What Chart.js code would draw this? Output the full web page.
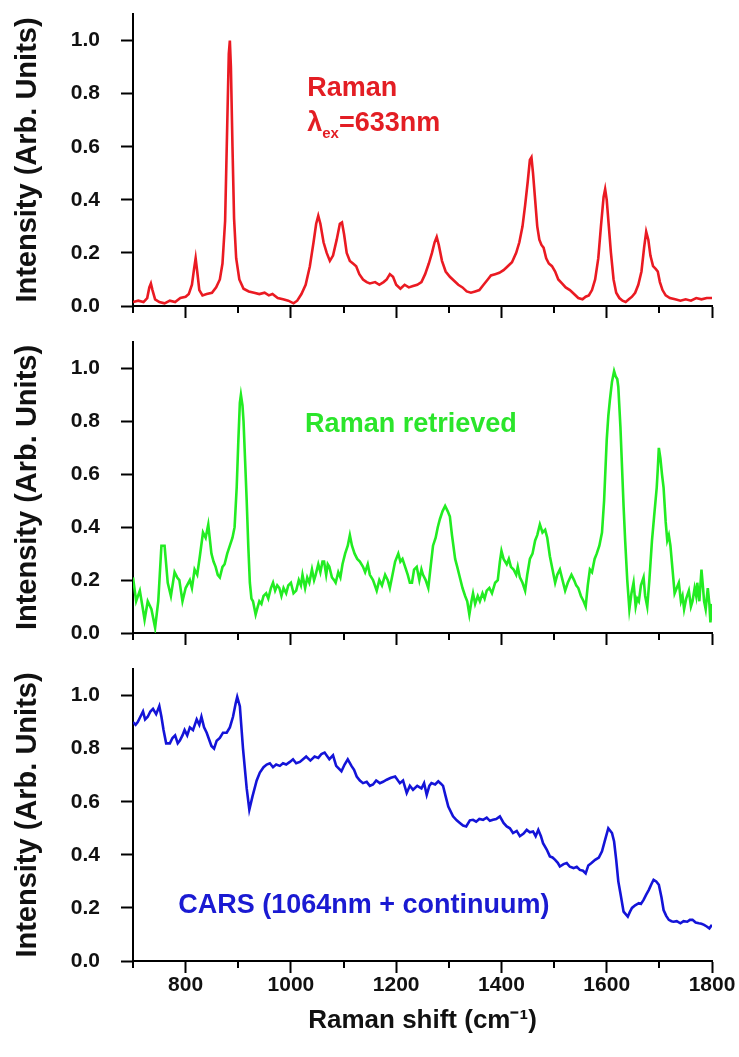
<!DOCTYPE html>
<html>
<head>
<meta charset="utf-8">
<script src="https://cdn.jsdelivr.net/npm/chart.js@4.4.1/dist/chart.umd.min.js"></script>
<style>
  body { margin: 0; background: #fff; }
  .panel { position: absolute; left: 0; }
</style>
</head>
<body>
<canvas id="ramanChart" class="panel" width="739" height="330" style="top:0px"></canvas>
<canvas id="retrievedChart" class="panel" width="739" height="330" style="top:328px"></canvas>
<canvas id="carsChart" class="panel" width="739" height="402" style="top:655px"></canvas>
<script>
// Raman spectrum, 633 nm excitation (red)
const redX = [700, 710, 720, 727, 731, 734, 737, 742, 750, 760, 770, 780, 790, 800, 806, 812, 816, 819, 822, 826,
  832, 840, 850, 858, 865, 870, 875, 879, 882, 884, 886, 889, 892, 896, 902, 910, 920, 930, 940, 950,
  958, 965, 975, 985, 995, 1005, 1012, 1020, 1028, 1036, 1043, 1048, 1052, 1056, 1062, 1068, 1074, 1080, 1087, 1093,
  1097, 1101, 1106, 1112, 1118, 1124, 1130, 1137, 1144, 1150, 1160, 1168, 1176, 1182, 1188, 1194, 1200, 1208, 1216, 1224,
  1232, 1240, 1248, 1255, 1262, 1268, 1273, 1277, 1281, 1287, 1294, 1302, 1310, 1318, 1326, 1334, 1342, 1350, 1358, 1366,
  1374, 1380, 1388, 1396, 1404, 1412, 1420, 1428, 1434, 1440, 1445, 1450, 1454, 1457, 1460, 1464, 1468, 1472, 1476, 1480,
  1485, 1490, 1496, 1502, 1508, 1515, 1522, 1530, 1538, 1546, 1554, 1560, 1566, 1572, 1578, 1584, 1589, 1594, 1597, 1600,
  1604, 1608, 1613, 1618, 1624, 1630, 1636, 1642, 1648, 1654, 1660, 1666, 1671, 1675, 1679, 1683, 1688, 1693, 1697, 1701,
  1706, 1712, 1720, 1730, 1740, 1750, 1760, 1770, 1780, 1790, 1800];
const redY = [0.015, 0.02, 0.015, 0.03, 0.07, 0.085, 0.06, 0.025, 0.015, 0.01, 0.02, 0.015, 0.03, 0.035, 0.045, 0.08, 0.14, 0.18, 0.13, 0.06,
  0.04, 0.045, 0.05, 0.07, 0.1, 0.16, 0.32, 0.68, 0.95, 1.0, 0.9, 0.6, 0.33, 0.18, 0.1, 0.065, 0.055, 0.05, 0.045, 0.05,
  0.04, 0.045, 0.03, 0.025, 0.02, 0.01, 0.02, 0.045, 0.08, 0.15, 0.24, 0.31, 0.34, 0.31, 0.24, 0.2, 0.17, 0.19, 0.25, 0.31,
  0.315, 0.27, 0.2, 0.17, 0.16, 0.15, 0.12, 0.1, 0.09, 0.085, 0.09, 0.08, 0.09, 0.1, 0.12, 0.11, 0.08, 0.065, 0.08, 0.07,
  0.075, 0.08, 0.09, 0.12, 0.16, 0.2, 0.24, 0.26, 0.23, 0.17, 0.13, 0.11, 0.095, 0.08, 0.07, 0.055, 0.05, 0.055, 0.06, 0.08,
  0.1, 0.115, 0.12, 0.125, 0.135, 0.15, 0.165, 0.2, 0.24, 0.3, 0.38, 0.47, 0.55, 0.56, 0.5, 0.4, 0.3, 0.25, 0.23, 0.22,
  0.18, 0.16, 0.15, 0.13, 0.1, 0.085, 0.07, 0.06, 0.045, 0.03, 0.025, 0.035, 0.04, 0.06, 0.1, 0.18, 0.3, 0.41, 0.44, 0.4,
  0.3, 0.2, 0.1, 0.05, 0.03, 0.02, 0.015, 0.025, 0.035, 0.05, 0.08, 0.13, 0.22, 0.28, 0.25, 0.19, 0.15, 0.14, 0.13, 0.09,
  0.06, 0.04, 0.03, 0.025, 0.02, 0.025, 0.02, 0.03, 0.025, 0.03, 0.03];

// Raman retrieved from CARS (green)
const greenX = [700, 706, 713, 718, 722, 728, 735, 742, 748, 754, 760, 766, 772, 779, 784, 788, 794, 800, 808, 812,
  817, 822, 827, 833, 838, 843, 849, 853, 857, 861, 865, 870, 874, 879, 884, 889, 893, 897, 900, 903,
  905, 908, 910, 913, 916, 919, 922, 925, 928, 931, 933, 937, 940, 944, 948, 953, 957, 962, 966, 970,
  974, 978, 982, 986, 991, 995, 1000, 1005, 1010, 1015, 1019, 1022, 1027, 1031, 1035, 1040, 1044, 1047, 1052, 1056,
  1060, 1063, 1067, 1070, 1073, 1078, 1082, 1085, 1090, 1094, 1098, 1103, 1108, 1112, 1116, 1121, 1126, 1131, 1137, 1141,
  1146, 1150, 1156, 1163, 1168, 1173, 1179, 1184, 1188, 1193, 1198, 1204, 1208, 1212, 1217, 1222, 1226, 1230, 1234, 1239,
  1244, 1248, 1251, 1256, 1261, 1266, 1270, 1275, 1279, 1283, 1288, 1293, 1298, 1302, 1306, 1312, 1316, 1321, 1326, 1331,
  1335, 1339, 1343, 1346, 1350, 1355, 1359, 1364, 1368, 1372, 1377, 1382, 1388, 1393, 1397, 1400, 1404, 1410, 1414, 1418,
  1423, 1428, 1431, 1435, 1440, 1445, 1449, 1454, 1459, 1464, 1468, 1473, 1478, 1483, 1487, 1492, 1497, 1502, 1506, 1511,
  1516, 1521, 1526, 1533, 1538, 1542, 1546, 1551, 1556, 1560, 1564, 1568, 1572, 1577, 1581, 1586, 1591, 1595, 1600, 1603,
  1606, 1610, 1614, 1617, 1620, 1622, 1626, 1629, 1632, 1635, 1639, 1643, 1647, 1651, 1655, 1658, 1661, 1665, 1670, 1673,
  1677, 1681, 1686, 1690, 1695, 1697, 1699, 1702, 1705, 1708, 1712, 1715, 1718, 1721, 1725, 1729, 1733, 1737, 1741, 1744,
  1747, 1751, 1756, 1760, 1763, 1767, 1770, 1772, 1776, 1780, 1783, 1785, 1788, 1792, 1795, 1797, 1800];
const greenY = [0.21, 0.12, 0.16, 0.1, 0.05, 0.12, 0.09, 0.02, 0.12, 0.33, 0.33, 0.19, 0.14, 0.23, 0.21, 0.2, 0.12, 0.17, 0.2, 0.17,
  0.24, 0.22, 0.29, 0.38, 0.36, 0.41, 0.3, 0.27, 0.25, 0.22, 0.21, 0.25, 0.26, 0.3, 0.33, 0.36, 0.4, 0.55, 0.72, 0.87,
  0.9, 0.86, 0.8, 0.65, 0.5, 0.33, 0.19, 0.13, 0.12, 0.09, 0.07, 0.1, 0.12, 0.11, 0.14, 0.15, 0.13, 0.17, 0.19, 0.16,
  0.18, 0.17, 0.14, 0.17, 0.15, 0.18, 0.19, 0.15, 0.16, 0.2, 0.18, 0.22, 0.17, 0.21, 0.19, 0.24, 0.2, 0.22, 0.26, 0.23,
  0.27, 0.27, 0.22, 0.26, 0.25, 0.21, 0.2, 0.19, 0.23, 0.21, 0.26, 0.3, 0.33, 0.37, 0.33, 0.3, 0.28, 0.27, 0.25, 0.23,
  0.26, 0.22, 0.2, 0.16, 0.2, 0.18, 0.22, 0.2, 0.17, 0.22, 0.27, 0.3, 0.27, 0.28, 0.25, 0.22, 0.19, 0.19, 0.24, 0.25,
  0.2, 0.24, 0.22, 0.2, 0.17, 0.26, 0.33, 0.36, 0.4, 0.43, 0.46, 0.48, 0.46, 0.44, 0.37, 0.28, 0.25, 0.21, 0.17, 0.14,
  0.12, 0.07, 0.12, 0.15, 0.11, 0.14, 0.12, 0.15, 0.13, 0.16, 0.17, 0.15, 0.19, 0.2, 0.27, 0.31, 0.28, 0.26, 0.28, 0.25,
  0.24, 0.22, 0.25, 0.21, 0.19, 0.16, 0.22, 0.28, 0.3, 0.35, 0.37, 0.41, 0.38, 0.39, 0.36, 0.29, 0.24, 0.19, 0.22, 0.24,
  0.2, 0.16, 0.19, 0.22, 0.2, 0.18, 0.17, 0.14, 0.12, 0.1, 0.18, 0.24, 0.23, 0.28, 0.3, 0.33, 0.38, 0.5, 0.73, 0.82,
  0.88, 0.95, 0.99, 0.97, 0.96, 0.93, 0.78, 0.63, 0.48, 0.35, 0.2, 0.09, 0.15, 0.19, 0.1, 0.13, 0.12, 0.18, 0.21, 0.14,
  0.1, 0.2, 0.35, 0.44, 0.55, 0.62, 0.7, 0.66, 0.6, 0.55, 0.42, 0.35, 0.37, 0.33, 0.24, 0.15, 0.17, 0.19, 0.12, 0.14,
  0.09, 0.13, 0.16, 0.1, 0.12, 0.17, 0.14, 0.19, 0.12, 0.24, 0.17, 0.12, 0.09, 0.17, 0.11, 0.04, 0.11];

// CARS, 1064 nm + continuum (blue)
const blueX = [700, 705, 709, 714, 719, 723, 728, 733, 738, 744, 750, 754, 758, 763, 770, 775, 780, 785, 789, 794,
  798, 803, 808, 814, 821, 826, 830, 835, 840, 849, 854, 859, 865, 871, 878, 884, 890, 895, 898, 903,
  909, 916, 921, 927, 935, 941, 948, 954, 960, 966, 972, 979, 985, 991, 998, 1004, 1010, 1017, 1023, 1029,
  1037, 1045, 1052, 1058, 1064, 1073, 1080, 1086, 1096, 1102, 1108, 1115, 1120, 1125, 1131, 1137, 1144, 1150, 1156, 1162,
  1169, 1175, 1182, 1190, 1198, 1207, 1213, 1220, 1226, 1232, 1240, 1248, 1253, 1258, 1263, 1267, 1274, 1280, 1285, 1289,
  1294, 1299, 1308, 1315, 1321, 1327, 1333, 1340, 1346, 1352, 1358, 1365, 1372, 1378, 1384, 1390, 1397, 1404, 1410, 1416,
  1422, 1429, 1435, 1442, 1448, 1454, 1460, 1465, 1470, 1475, 1479, 1486, 1492, 1497, 1502, 1507, 1511, 1518, 1524, 1530,
  1537, 1543, 1549, 1555, 1560, 1565, 1571, 1578, 1585, 1591, 1597, 1603, 1607, 1610, 1614, 1618, 1622, 1626, 1632, 1640,
  1644, 1648, 1654, 1661, 1665, 1670, 1675, 1680, 1685, 1689, 1694, 1699, 1704, 1708, 1713, 1718, 1723, 1727, 1733, 1740,
  1746, 1753, 1758, 1763, 1769, 1775, 1780, 1785, 1790, 1795, 1800];
const blueY = [0.9, 0.89, 0.9, 0.92, 0.94, 0.91, 0.92, 0.94, 0.95, 0.93, 0.96, 0.92, 0.87, 0.82, 0.82, 0.84, 0.85, 0.82, 0.83, 0.85,
  0.87, 0.85, 0.88, 0.87, 0.91, 0.89, 0.92, 0.88, 0.86, 0.81, 0.8, 0.83, 0.84, 0.86, 0.86, 0.88, 0.92, 0.97, 0.995, 0.96,
  0.8, 0.65, 0.57, 0.62, 0.68, 0.71, 0.73, 0.74, 0.745, 0.73, 0.74, 0.735, 0.745, 0.74, 0.75, 0.76, 0.745, 0.75, 0.76, 0.77,
  0.755, 0.77, 0.765, 0.78, 0.785, 0.76, 0.775, 0.735, 0.715, 0.74, 0.76, 0.735, 0.72, 0.695, 0.68, 0.67, 0.675, 0.66, 0.665, 0.68,
  0.67, 0.675, 0.683, 0.69, 0.695, 0.67, 0.68, 0.633, 0.66, 0.645, 0.66, 0.65, 0.67, 0.626, 0.66, 0.67, 0.665, 0.677, 0.668, 0.66,
  0.62, 0.582, 0.545, 0.53, 0.52, 0.51, 0.507, 0.53, 0.532, 0.525, 0.535, 0.532, 0.54, 0.528, 0.532, 0.535, 0.545, 0.52, 0.507, 0.5,
  0.482, 0.49, 0.47, 0.48, 0.494, 0.485, 0.488, 0.47, 0.494, 0.47, 0.444, 0.42, 0.394, 0.39, 0.381, 0.37, 0.356, 0.365, 0.369, 0.355,
  0.35, 0.355, 0.343, 0.34, 0.33, 0.36, 0.369, 0.381, 0.39, 0.413, 0.457, 0.5, 0.49, 0.482, 0.45, 0.381, 0.3, 0.255, 0.186, 0.167,
  0.185, 0.2, 0.21, 0.218, 0.215, 0.23, 0.25, 0.268, 0.29, 0.306, 0.3, 0.287, 0.24, 0.192, 0.17, 0.155, 0.15, 0.148, 0.15, 0.142,
  0.15, 0.148, 0.155, 0.155, 0.145, 0.142, 0.14, 0.136, 0.13, 0.123, 0.136];

const xMajorLabels = [800, 1000, 1200, 1400, 1600, 1800];
const yMajorLabels = ['0.0', '0.2', '0.4', '0.6', '0.8', '1.0'];

const FONT = "'Liberation Sans', Arial, Helvetica, sans-serif";

const isMajorX = v => xMajorLabels.includes(Math.round(v));
const isMajorY = v => Math.round(v * 10) % 2 === 0 && v < 1.05;

// short minor ticks, the long major ones come from Chart.js itself
const minorTicks = {
  id: 'minorTicks',
  afterDraw(chart) {
    const { ctx, scales: { x, y } } = chart;
    ctx.save();
    ctx.strokeStyle = '#000';
    ctx.lineWidth = 2;
    ctx.beginPath();
    x.ticks.forEach(t => {
      if (isMajorX(t.value)) return;
      const px = Math.round(x.getPixelForValue(t.value));
      ctx.moveTo(px, x.top);
      ctx.lineTo(px, x.top + 7);
    });
    y.ticks.forEach(t => {
      if (isMajorY(t.value)) return;
      const py = Math.round(y.getPixelForValue(t.value));
      ctx.moveTo(y.right, py);
      ctx.lineTo(y.right - 7, py);
    });
    ctx.stroke();
    ctx.restore();
  }
};

// text labels inside the panels, placed in data coordinates
const panelNotes = {
  id: 'panelNotes',
  afterDatasetsDraw(chart, args, opts) {
    const { ctx, scales: { x, y } } = chart;
    (opts.items || []).forEach(item => {
      let px = x.getPixelForValue(item.x);
      const py = y.getPixelForValue(item.y);
      ctx.save();
      ctx.fillStyle = item.color;
      ctx.textBaseline = 'alphabetic';
      ctx.textAlign = 'left';
      item.parts.forEach(p => {
        ctx.font = 'bold ' + p.size + 'px ' + FONT;
        ctx.fillText(p.text, px, py + (p.dy || 0));
        px += ctx.measureText(p.text).width;
      });
      ctx.restore();
    });
  }
};

function makePanel(id, xs, ys, color, opts) {
  const points = xs.map((v, i) => ({ x: v, y: ys[i] }));
  return new Chart(document.getElementById(id), {
    type: 'line',
    data: {
      datasets: [{
        data: points,
        borderColor: color,
        borderWidth: 2.6,
        pointRadius: 0,
        tension: 0,
        fill: false
      }]
    },
    options: {
      responsive: false,
      animation: false,
      events: [],
      layout: { padding: { top: 14, right: 27, left: 0, bottom: 0 } },
      plugins: {
        legend: { display: false },
        tooltip: { enabled: false },
        panelNotes: { items: opts.notes }
      },
      scales: {
        x: {
          type: 'linear',
          min: 700,
          max: 1800,
          afterFit: s => {
            s.height = opts.xHeight;
            s.paddingLeft = 0;
            s.paddingRight = 0;
          },
          border: { color: '#000', width: 2 },
          grid: {
            drawOnChartArea: false,
            tickLength: 12,
            tickWidth: 2,
            tickColor: c => isMajorX(c.tick.value) ? '#000' : 'rgba(0,0,0,0)'
          },
          ticks: {
            display: opts.showX,
            stepSize: 100,
            autoSkip: false,
            maxRotation: 0,
            padding: 0,
            color: '#111',
            font: { family: FONT, size: 21, weight: 'bold' },
            callback: v => isMajorX(v) ? String(v) : ''
          },
          title: {
            display: opts.showX,
            text: 'Raman shift (cm\u207B\u00B9)',
            color: '#111',
            font: { family: FONT, size: 26, weight: 'bold' },
            padding: { top: 0, bottom: 21 }
          }
        },
        y: {
          min: 0,
          max: 1.1,
          afterFit: s => {
            s.width = 133;
            s.paddingTop = 0;
            s.paddingBottom = 0;
          },
          border: { color: '#000', width: 2 },
          grid: {
            drawOnChartArea: false,
            tickLength: 12,
            tickWidth: 2,
            tickColor: c => isMajorY(c.tick.value) ? '#000' : 'rgba(0,0,0,0)'
          },
          ticks: {
            stepSize: 0.1,
            padding: 21,
            color: '#111',
            font: { family: FONT, size: 21, weight: 'bold' },
            callback: v => isMajorY(v) ? yMajorLabels[Math.round(v * 5)] : ''
          },
          title: {
            display: true,
            text: 'Intensity (Arb. Units)',
            color: '#111',
            font: { family: FONT, size: 29, weight: 'bold' },
            padding: { top: 11, bottom: 0 }
          }
        }
      }
    },
    plugins: [minorTicks, panelNotes]
  });
}

makePanel('ramanChart', redX, redY, '#ea1a22', {
  xHeight: 24,
  showX: false,
  notes: [
    { x: 1031, y: 0.79, color: '#e31e24', parts: [{ text: 'Raman', size: 27 }] },
    { x: 1031, y: 0.66, color: '#e31e24', parts: [
      { text: '\u03BB', size: 27 },
      { text: 'ex', size: 15, dy: 7 },
      { text: '=633nm', size: 27 }
    ] }
  ]
});

makePanel('retrievedChart', greenX, greenY, '#22ec22', {
  xHeight: 25,
  showX: false,
  notes: [
    { x: 1027, y: 0.76, color: '#2be52b', parts: [{ text: 'Raman retrieved', size: 27 }] }
  ]
});

makePanel('carsChart', blueX, blueY, '#1414d8', {
  xHeight: 96,
  showX: true,
  notes: [
    { x: 786, y: 0.18, color: '#1a1ad2', parts: [{ text: 'CARS (1064nm + continuum)', size: 27 }] }
  ]
});
</script>
</body>
</html>
